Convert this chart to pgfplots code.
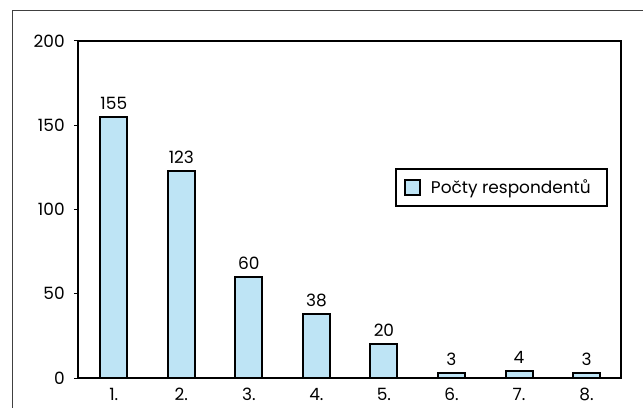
\documentclass[border=0pt]{standalone}
\usepackage{fontspec}
\setmainfont{Poppins}
\usepackage{pgfplots}
\pgfplotsset{compat=1.18}
\definecolor{barblue}{RGB}{190,228,245}
\begin{document}
\begin{tikzpicture}
\useasboundingbox (-78bp,-30bp) rectangle (565bp,378bp);
\draw[line width=1bp, black!75] (-65.5bp,-31bp) -- (-65.5bp,367.5bp) -- (566bp,367.5bp);
\begin{axis}[
  at={(0,0)}, anchor=south west,
  scale only axis, width=543bp, height=337bp,
  xmin=0.47, xmax=8.51, ymin=0, ymax=200,
  xtick={1,...,8},
  xticklabels={1.,2.,3.,4.,5.,6.,7.,8.},
  ytick={0,50,100,150,200},
  ytick pos=left,
  x tick style={draw=none},
  y tick style={line width=1bp, black},
  tick align=outside, major tick length=4bp,
  line width=2bp,
  axis line style={line width=2bp},
  font=\fontsize{17}{20}\selectfont,
  tick label style={font=\fontsize{17}{20}\selectfont},
  /pgf/number format/assume math mode=true,
  yticklabel style={xshift=-5bp},
  xticklabel style={yshift=-2bp},
  ybar, bar width=27bp,
  nodes near coords,
  nodes near coords style={font=\fontsize{17}{20}\selectfont, yshift=3bp},
  legend style={at={(0.976,0.623)}, anchor=north east, draw=black, line width=2bp,
    font=\fontsize{17}{20}\selectfont, inner xsep=8bp, inner ysep=9bp},
  legend image code/.code={\draw[#1, line width=1.6bp] (0bp,-7.5bp) rectangle (15bp,7.5bp);},
]
\addplot[draw=black, line width=2bp, fill=barblue] coordinates {
(1,155) (2,123) (3,60) (4,38) (5,20) (6,3) (7,4) (8,3)};
\legend{\makebox[174bp][l]{\hspace*{8bp}Počty respondentů}}
\end{axis}
\end{tikzpicture}
\end{document}
